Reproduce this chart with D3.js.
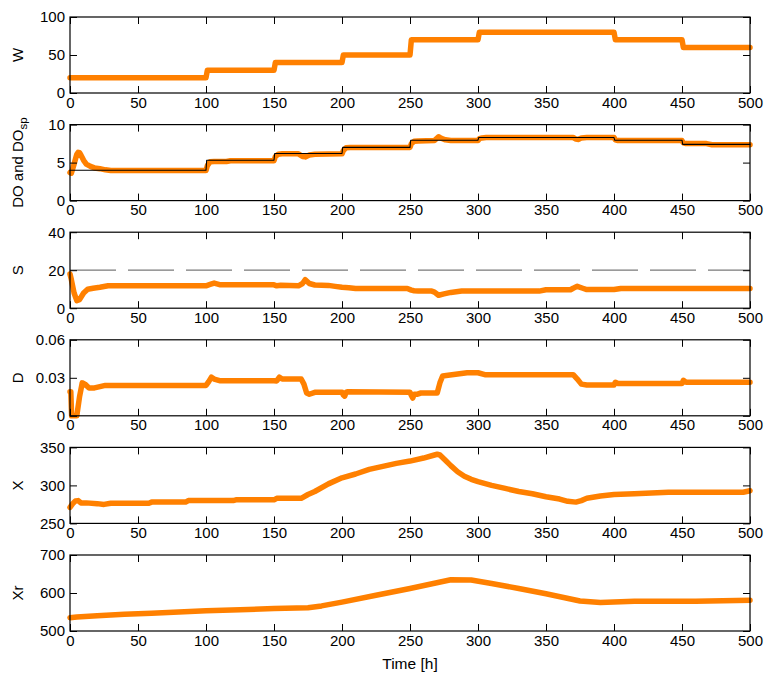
<!DOCTYPE html>
<html><head><meta charset="utf-8">
<script src="https://cdn.jsdelivr.net/npm/d3@7"></script>
<style>body{margin:0;background:#fff}svg text{font-family:"Liberation Sans",Arial,Helvetica,sans-serif}</style>
</head><body>
<svg id="c" width="765" height="673"></svg>
<script>
const xTicks = [0,50,100,150,200,250,300,350,400,450,500];

const wT = [0,100,101,150,151,200,201,250,251,300,301,400,401,450,451,500];
const wV = [20,20,30,30,40,40,50,50,70,70,80,80,70,70,60,60];

const spT = [0,100,100.5,150,150.5,200,200.5,250,250.5,300,300.5,400,400.5,450,450.5,500];
const spV = [4,4,5.3,5.3,6.2,6.2,7,7,7.95,7.95,8.3,8.3,7.95,7.95,7.4,7.4];

const doT = [0,1,3,5,6,7,8,10,12,15,18,22,26,30,100,101,103,106,115,118,150,151,153,156,168,171,173,176,180,200,201,203,206,250,251,253,256,268,271,273,276,280,300,301,303,306,370,372,374,376,380,400,401,403,406,450,451,453,456,468,472,500];
const doV = [3.7,3.6,4.8,6.1,6.35,6.3,6.0,5.3,4.8,4.5,4.3,4.2,4.05,3.95,3.95,4.6,5.1,5.15,5.15,5.25,5.25,5.8,6.1,6.15,6.15,5.8,5.75,6.0,6.1,6.15,6.6,6.95,7.0,7.0,7.5,7.8,7.85,7.9,8.4,8.2,8.0,7.9,7.9,8.15,8.25,8.3,8.3,8.1,8.05,8.25,8.3,8.3,8.0,7.9,7.9,7.9,7.6,7.5,7.5,7.5,7.35,7.35];

const sRef = 20;
const sT = [0,1,3,5,7,10,13,17,22,28,100,103,106,110,150,152,155,168,171,173,176,180,190,195,200,205,210,248,251,253,256,266,268,271,275,280,288,345,350,368,370,373,377,380,400,405,500];
const sV = [18,15,8,4,4.5,8,10,10.5,11,11.8,11.8,12.5,13.2,12.4,12.3,11.8,12.1,11.8,13,15,13,12.2,12,11.5,11,10.8,10.4,10.4,9.5,9.2,9.1,9.0,8.5,6.8,7.5,8.3,9,9,9.7,9.7,10.5,11.5,10.5,9.8,9.8,10.4,10.4];

const dT = [0,0.6,1.2,5,7,9,11,14,18,22,26,100,102,104,106,110,150,152,154,156,170,172,174,176,180,200,201,202,203,204,250,251,252,253,255,258,270,272,274,278,285,292,300,305,370,373,376,380,400,401,403,450,451,453,500];
const dV = [0.019,0.019,0,0,0.015,0.026,0.025,0.022,0.022,0.023,0.024,0.024,0.027,0.0305,0.029,0.0277,0.0277,0.0275,0.0305,0.029,0.029,0.025,0.018,0.017,0.0185,0.0185,0.0165,0.0155,0.0185,0.019,0.0185,0.016,0.014,0.017,0.017,0.018,0.018,0.026,0.0315,0.032,0.033,0.034,0.034,0.0325,0.0325,0.029,0.025,0.0243,0.0243,0.0265,0.0255,0.0255,0.028,0.0265,0.0265];

const xT = [0,2,4,6,8,12,20,25,30,58,60,85,87,120,122,150,152,170,175,180,190,200,210,220,230,240,250,260,266,270,272,276,280,285,290,295,300,310,320,330,340,350,360,366,372,376,380,390,400,415,440,495,500];
const xV = [271,276,279.5,280,277,277,276,275,276.5,276.5,278,278,280,280,281,281,283,283,288,292,302,310,315,321,325,329,332,336,339,341,340,333,326,318,312,308,305,300,296,292,289,285,282,279,278,280,283,286,288,289,291,291,293];

const xrT = [0,5,20,40,60,80,100,125,150,175,185,200,225,250,280,295,310,330,350,375,390,415,460,500];
const xrV = [535,537,540,544,547,550,553,556,559,561,566,576,594,612,635,634,625,612,598,579,575,578,578,581];

const panels = [
  {label:"W", dom:[0,100], ticks:[0,50,100], fmt:d=>d, series:[{t:wT,v:wV}]},
  {label:"DO", dom:[0,10], ticks:[0,5,10], fmt:d=>d, series:[{t:doT,v:doV},{t:spT,v:spV,black:true}]},
  {label:"S", dom:[0,40], ticks:[0,20,40], fmt:d=>d, ref:sRef, series:[{t:sT,v:sV}]},
  {label:"D", dom:[0,0.06], ticks:[0,0.03,0.06], fmt:d=>d===0?"0":d3.format(".2f")(d), series:[{t:dT,v:dV}]},
  {label:"X", dom:[250,350], ticks:[250,300,350], fmt:d=>d, series:[{t:xT,v:xV}]},
  {label:"Xr", dom:[500,700], ticks:[500,600,700], fmt:d=>d, series:[{t:xrT,v:xrV}]}
];

const svg = d3.select("#c");
const L = 70, R = 750, H = 76, top0 = 17, step = 107.6, TK = 7, FS = 15;
const x = d3.scaleLinear().domain([0,500]).range([L,R]);
const orange = "#ff8000";

panels.forEach((p,i)=>{
  const t = top0 + i*step, b = t + H;
  const y = d3.scaleLinear().domain(p.dom).range([b,t]);
  const g = svg.append("g");
  if (p.ref !== undefined) {
    g.append("line").attr("x1",x(0)).attr("x2",x(500)).attr("y1",y(p.ref)).attr("y2",y(p.ref))
      .attr("stroke","#7a7a7a").attr("stroke-width",1.3).attr("stroke-dasharray","46,12");
  }
  p.series.forEach(s=>{
    const pts = s.t.map((tt,k)=>[tt,s.v[k]]);
    const line = d3.line().x(d=>x(d[0])).y(d=>y(d[1]));
    g.append("path").attr("d",line(pts)).attr("fill","none")
      .attr("stroke", s.black ? "#000" : orange)
      .attr("stroke-width", s.black ? 1.1 : 5.5)
      .attr("stroke-linejoin","round").attr("stroke-linecap","round");
  });
  const ax = (gen, tr) => {
    const a = g.append("g").attr("transform",tr).call(gen);
    a.select(".domain").remove();
    a.selectAll("text").attr("font-size",FS).attr("fill","#000");
    a.selectAll("line").attr("stroke","#000");
    return a;
  };
  ax(d3.axisBottom(x).tickValues(xTicks).tickSizeInner(-TK).tickSizeOuter(0).tickPadding(4).tickFormat(d=>d), `translate(0,${b})`);
  ax(d3.axisTop(x).tickValues(xTicks).tickSizeInner(-TK).tickSizeOuter(0).tickFormat(""), `translate(0,${t})`);
  ax(d3.axisLeft(y).tickValues(p.ticks).tickSizeInner(-TK).tickSizeOuter(0).tickPadding(5).tickFormat(p.fmt), `translate(${L},0)`);
  ax(d3.axisRight(y).tickValues(p.ticks).tickSizeInner(-TK).tickSizeOuter(0).tickFormat(""), `translate(${R},0)`);
  g.append("rect").attr("x",L).attr("y",t).attr("width",R-L).attr("height",H)
    .attr("fill","none").attr("stroke","#000").attr("stroke-width",1.2);
  const lab = g.append("text").attr("transform",`translate(23,${(t+b)/2}) rotate(-90)`)
    .attr("text-anchor","middle").attr("font-size",FS).attr("fill","#000");
  if (p.label === "DO") {
    lab.append("tspan").text("DO and DO");
    lab.append("tspan").attr("font-size",11.5).attr("dy",4).text("sp");
  } else lab.text(p.label);
});

svg.append("text").attr("x",(L+R)/2).attr("y",669).attr("text-anchor","middle")
  .attr("font-size",15.5).attr("fill","#000").text("Time [h]");
</script>
</body></html>
